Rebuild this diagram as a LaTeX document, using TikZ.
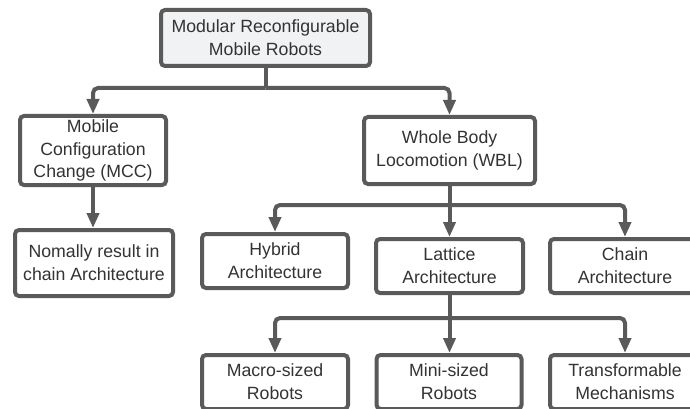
\documentclass[tikz,border=0pt]{standalone}
\usepackage{fontspec}
\setmainfont{Liberation Sans}
\usetikzlibrary{arrows.meta}
\definecolor{edge}{HTML}{5A5A5A}
\definecolor{ink}{HTML}{333333}
\definecolor{rootfill}{HTML}{F1F2F4}
\begin{document}
\begin{tikzpicture}[x=1pt,y=-1pt,
  box/.style={draw=edge, line width=4pt, rounded corners=4pt, fill=white,
    text=ink, align=center, inner sep=0pt,
    font=\fontsize{17.7pt}{22.7pt}\selectfont},
  link/.style={draw=edge, line width=4pt, rounded corners=5pt},
  arr/.style={link, -{Triangle[length=15pt,width=12pt]}}]
\useasboundingbox (0,0) rectangle (690,409);
\clip (0,0) rectangle (690,409);

% boxes
\node[box, fill=rootfill, minimum width=209pt, minimum height=56pt] (root) at (265.5,38)
  {Modular Reconfigurable\\Mobile Robots};
\node[box, minimum width=146pt, minimum height=69pt] (mcc) at (93,150.5)
  {Mobile\\Configuration\\Change (MCC)};
\node[box, minimum width=158pt, minimum height=66pt] (nom) at (94,263)
  {Nomally result in\\chain Architecture};
\node[box, minimum width=171pt, minimum height=67pt] (wbl) at (449.5,150.5)
  {Whole Body\\Locomotion (WBL)};
\node[box, minimum width=146pt, minimum height=54pt] (hyb) at (275,261)
  {Hybrid\\Architecture};
\node[box, minimum width=147pt, minimum height=54pt] (lat) at (449.5,266)
  {Lattice\\Architecture};
\node[box, minimum width=150pt, minimum height=54pt] (chn) at (625,266)
  {Chain\\Architecture};
\node[box, minimum width=146pt, minimum height=54pt] (mac) at (275,382)
  {Macro-sized\\Robots};
\node[box, minimum width=145pt, minimum height=54pt] (mini) at (449,382)
  {Mini-sized\\Robots};
\node[box, minimum width=150pt, minimum height=54pt] (trf) at (625,382)
  {Transformable\\Mechanisms};

% branch points
\path (root.south) ++(0,20) coordinate (j1);
\path (wbl.south) ++(0,19) coordinate (j2);
\path (lat.south) ++(0,23) coordinate (j3);

% connectors
\draw[link] (root.south) -- (j1);
\draw[arr] (j1) -| (mcc.north);
\draw[arr] (j1) -| (wbl.north);

\draw[arr] (mcc.south) -- (mcc.south |- nom.north);

\draw[link] (wbl.south) -- (j2);
\draw[arr] (j2) -| (hyb.north);
\draw[arr] (j2) -- (j2 |- lat.north);
\draw[arr] (j2) -| (chn.north);

\draw[link] (lat.south) -- (j3);
\draw[arr] (j3) -| (mac.north);
\draw[arr] (j3) -- (j3 |- mini.north);
\draw[arr] (j3) -| (trf.north);
\end{tikzpicture}
\end{document}
